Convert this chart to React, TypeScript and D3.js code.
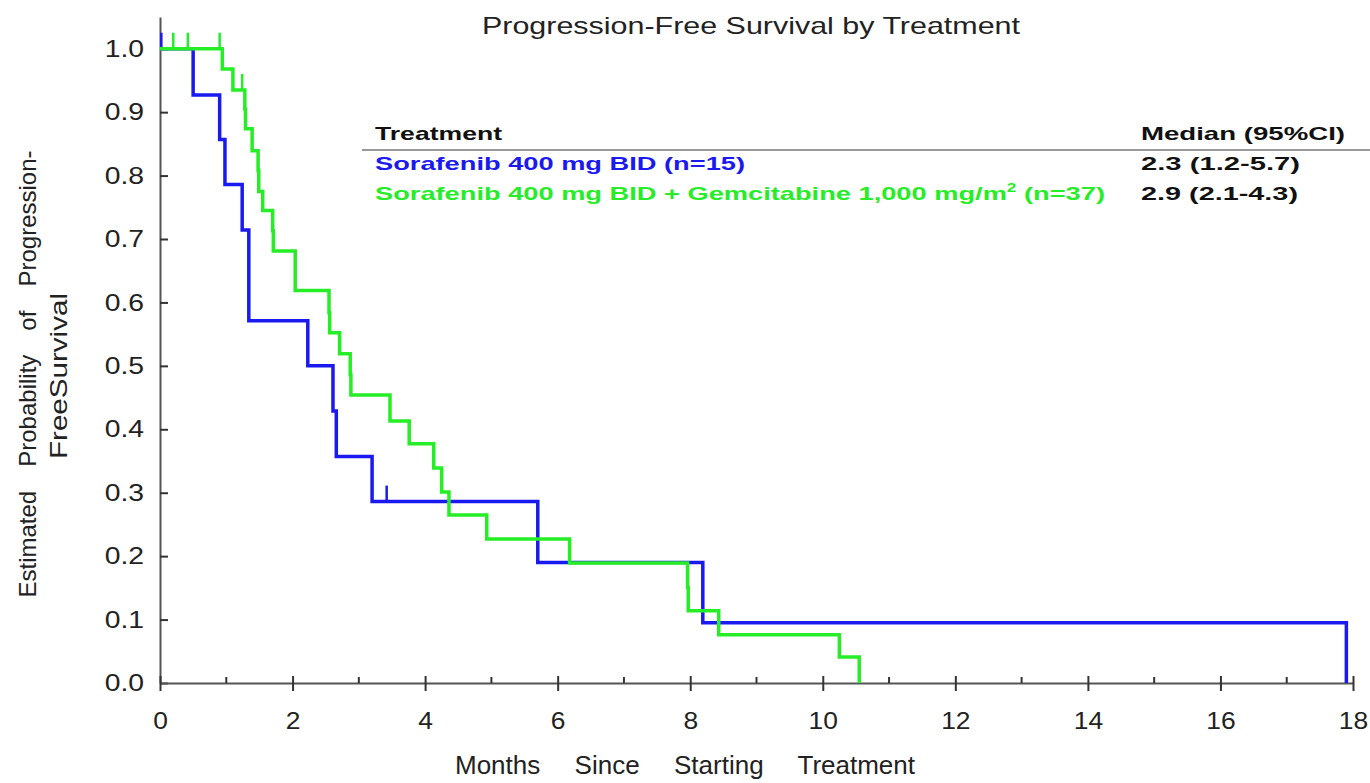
import React, { useEffect, useRef } from "react";
import * as d3 from "d3";

// step points: month of the drop, survival after it
const blueTimes = [0.5, 0.9, 0.98, 1.24, 1.34, 2.23, 2.61, 2.66, 3.2, 5.7, 8.19, 17.9];
const blueSurv = [0.927, 0.857, 0.786, 0.714, 0.571, 0.5, 0.429, 0.357, 0.286, 0.19, 0.095, 0];
const blueCensor = [0.02, 3.42];

const greenTimes = [0.94, 1.1, 1.28, 1.29, 1.39, 1.48, 1.49, 1.55, 1.7, 1.71, 2.04, 2.55, 2.56, 2.71, 2.87, 2.88, 3.47, 3.76, 4.13, 4.25, 4.36, 4.93, 6.18, 7.96, 7.97, 8.43, 10.25, 10.55];
const greenSurv = [0.968, 0.935, 0.905, 0.874, 0.839, 0.808, 0.775, 0.745, 0.713, 0.681, 0.619, 0.584, 0.552, 0.519, 0.486, 0.454, 0.413, 0.377, 0.339, 0.301, 0.265, 0.227, 0.189, 0.151, 0.114, 0.076, 0.041, 0];
const greenCensor = [0.2, 0.42, 0.9, 1.24];

const yTicks = [0, 0.1, 0.2, 0.3, 0.4, 0.5, 0.6, 0.7, 0.8, 0.9, 1.0];
const xMajor = [0, 2, 4, 6, 8, 10, 12, 14, 16, 18];
const xMinor = [1, 3, 5, 7, 9, 11, 13, 15, 17];

const legendHead = ["Treatment", "Median (95%CI)"];
const legendMedians = ["2.3 (1.2-5.7)", "2.9 (2.1-4.3)"];

const BLUE = "#1a1af0";
const GREEN = "#26ee26";
const FONT = "Liberation Sans, Arial, sans-serif";

function survAt(times: number[], surv: number[], t: number) {
  let s = 1;
  for (let i = 0; i < times.length; i++) if (times[i] <= t) s = surv[i];
  return s;
}

export default function App() {
  const ref = useRef<SVGSVGElement>(null);

  useEffect(() => {
    document.body.style.margin = "0";
    const svg = d3.select(ref.current);
    svg.selectAll("*").remove();

    const x = d3.scaleLinear().domain([0, 18]).range([160, 1353]);
    const y = d3.scaleLinear().domain([0, 1.05]).range([683, 17]);

    // stretch a text to a wanted width
    const fit = (t: any, len: number) => t.attr("textLength", len).attr("lengthAdjust", "spacingAndGlyphs");
    // spread the words of a text out to a wanted width
    const spread = (t: any, len: number) => {
      const el = t.node() as SVGTextElement;
      const gaps = (el.textContent || "").split(" ").length - 1;
      t.attr("word-spacing", (len - el.getComputedTextLength()) / gaps);
      return t;
    };

    // title
    fit(
      svg.append("text").attr("x", 751).attr("y", 34).attr("text-anchor", "middle")
        .attr("font-family", FONT).attr("font-size", 24).attr("fill", "#222")
        .text("Progression-Free Survival by Treatment"),
      538
    );

    // y axis
    const gy = svg.append("g").attr("transform", "translate(160,0)")
      .call(d3.axisLeft(y).tickValues(yTicks).tickFormat(d3.format(".1f")).tickSizeInner(-8).tickSizeOuter(0).tickPadding(16));
    gy.select(".domain").attr("stroke", "#555").attr("stroke-width", 2);
    gy.selectAll(".tick line").attr("stroke", "#333").attr("stroke-width", 2);
    gy.selectAll(".tick text").attr("font-family", FONT).attr("font-size", 24).attr("fill", "#222")
      .each(function () {
        const el = this as SVGTextElement;
        el.setAttribute("textLength", String(el.getComputedTextLength() * 1.18));
        el.setAttribute("lengthAdjust", "spacingAndGlyphs");
      });

    // x axis
    const gx = svg.append("g").attr("transform", "translate(0,683)")
      .call(d3.axisBottom(x).tickValues(xMajor).tickSizeInner(8).tickSizeOuter(0).tickPadding(21));
    gx.select(".domain").attr("stroke", "#555").attr("stroke-width", 2);
    gx.selectAll(".tick line").attr("y1", -7).attr("stroke", "#333").attr("stroke-width", 2);
    gx.selectAll(".tick text").attr("font-family", FONT).attr("font-size", 24).attr("fill", "#222")
      .each(function () {
        const el = this as SVGTextElement;
        el.setAttribute("textLength", String(el.getComputedTextLength() * 1.1));
        el.setAttribute("lengthAdjust", "spacingAndGlyphs");
      });
    gx.selectAll(".minor").data(xMinor).enter().append("line")
      .attr("x1", (d) => x(d)).attr("x2", (d) => x(d))
      .attr("y1", -6).attr("y2", 0)
      .attr("stroke", "#333").attr("stroke-width", 2);

    // axis titles
    spread(
      svg.append("text").attr("x", 685).attr("y", 774).attr("text-anchor", "middle")
        .attr("font-family", FONT).attr("font-size", 26).attr("fill", "#222")
        .text("Months Since Starting Treatment"),
      460
    );
    spread(
      svg.append("text").attr("transform", "translate(36,374) rotate(-90)").attr("text-anchor", "middle")
        .attr("font-family", FONT).attr("font-size", 24).attr("fill", "#222")
        .text("Estimated Probability of Progression-"),
      447
    );
    svg.append("text").attr("transform", "translate(67,376) rotate(-90)").attr("text-anchor", "middle")
      .attr("font-family", FONT).attr("font-size", 24).attr("fill", "#222")
      .attr("textLength", 166).attr("lengthAdjust", "spacingAndGlyphs")
      .text("FreeSurvival");

    // legend table
    const lg = svg.append("g").attr("font-family", FONT).attr("font-weight", "bold").attr("font-size", 19);
    fit(lg.append("text").attr("x", 375).attr("y", 140).attr("fill", "#111").text(legendHead[0]), 127);
    fit(lg.append("text").attr("x", 1141).attr("y", 140).attr("fill", "#111").text(legendHead[1]), 204);
    lg.append("line").attr("x1", 362).attr("x2", 1370).attr("y1", 150).attr("y2", 150)
      .attr("stroke", "#999").attr("stroke-width", 2);
    const bt = lg.append("text").attr("x", 375).attr("y", 170).attr("fill", BLUE).text("Sorafenib 400 mg BID (n=15)");
    const gt = lg.append("text").attr("x", 375).attr("y", 200).attr("fill", GREEN);
    gt.append("tspan").text("Sorafenib 400 mg BID + Gemcitabine 1,000 mg/m");
    gt.append("tspan").attr("dy", -8).attr("font-size", 12).text("2");
    gt.append("tspan").attr("dy", 8).text(" (n=37)");
    // both rows share one stretch factor
    const k = 730 / (gt.node() as SVGTextElement).getComputedTextLength();
    fit(bt, (bt.node() as SVGTextElement).getComputedTextLength() * k);
    fit(gt, 730);
    fit(lg.append("text").attr("x", 1141).attr("y", 170).attr("fill", "#111").text(legendMedians[0]), 159);
    fit(lg.append("text").attr("x", 1141).attr("y", 200).attr("fill", "#111").text(legendMedians[1]), 157);

    // curves
    const line = d3.line<[number, number]>()
      .x((d) => x(d[0])).y((d) => y(d[1]))
      .curve(d3.curveStepAfter);

    const series = [
      { times: blueTimes, surv: blueSurv, cens: blueCensor, color: BLUE },
      { times: greenTimes, surv: greenSurv, cens: greenCensor, color: GREEN },
    ];
    series.forEach((s) => {
      const pts: [number, number][] = [[0, 1]];
      s.times.forEach((t, i) => pts.push([t, s.surv[i]]));
      svg.append("path").datum(pts)
        .attr("fill", "none").attr("stroke", s.color).attr("stroke-width", 3.5)
        .attr("stroke-linejoin", "miter")
        .attr("d", line);
      svg.selectAll(null).data(s.cens).enter().append("line")
        .attr("x1", (d) => x(d)).attr("x2", (d) => x(d))
        .attr("y1", (d) => y(survAt(s.times, s.surv, d)))
        .attr("y2", (d) => y(survAt(s.times, s.surv, d)) - 16)
        .attr("stroke", s.color).attr("stroke-width", 2.5);
    });
  }, []);

  return <svg ref={ref} width={1370} height={783} style={{ display: "block", background: "#fff" }} />;
}
